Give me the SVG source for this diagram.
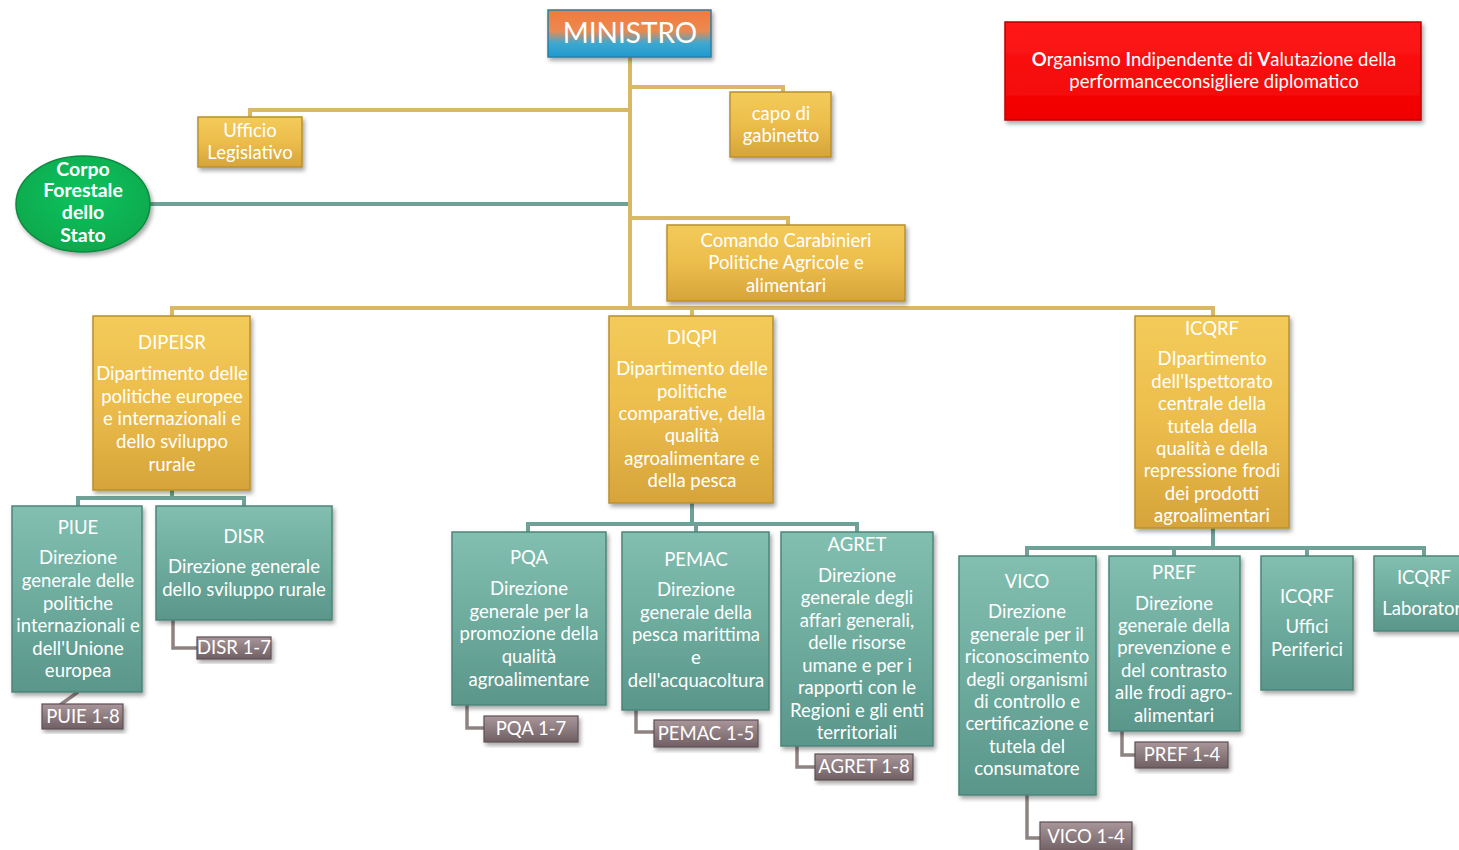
<svg xmlns="http://www.w3.org/2000/svg" width="1459" height="850" viewBox="0 0 1459 850">
<defs>
<linearGradient id="gMin" x1="0" y1="0" x2="0" y2="1">
<stop offset="0" stop-color="#f5793a"/><stop offset="0.45" stop-color="#e98a52"/><stop offset="0.7" stop-color="#3fa8cf"/><stop offset="1" stop-color="#1f9bd0"/>
</linearGradient>
<linearGradient id="gGold" x1="0" y1="0" x2="0" y2="1">
<stop offset="0" stop-color="#f3cb5a"/><stop offset="0.5" stop-color="#ecbd4c"/><stop offset="1" stop-color="#d6a43a"/>
</linearGradient>
<linearGradient id="gTeal" x1="0" y1="0" x2="0" y2="1">
<stop offset="0" stop-color="#82bfb0"/><stop offset="0.5" stop-color="#6eac9e"/><stop offset="1" stop-color="#5a968a"/>
</linearGradient>
<linearGradient id="gLab" x1="0" y1="0" x2="0" y2="1">
<stop offset="0" stop-color="#a8969a"/><stop offset="1" stop-color="#6f5f63"/>
</linearGradient>
<linearGradient id="gRed" x1="0" y1="0" x2="0" y2="1">
<stop offset="0" stop-color="#ff1a1a"/><stop offset="1" stop-color="#f00000"/>
</linearGradient>
<radialGradient id="gGreen" cx="0.5" cy="0.4" r="0.6">
<stop offset="0" stop-color="#12c25e"/><stop offset="1" stop-color="#07a94c"/>
</radialGradient>
<filter id="sh" x="-10%" y="-10%" width="125%" height="130%">
<feDropShadow dx="2" dy="3" stdDeviation="2" flood-color="#000" flood-opacity="0.35"/>
</filter>
<style>
.gold{fill:url(#gGold);stroke:#b8902f;stroke-width:1.5;filter:url(#sh)}
.teal{fill:url(#gTeal);stroke:#4e857a;stroke-width:1.5;filter:url(#sh)}
.lab{fill:url(#gLab);stroke:#5e5054;stroke-width:1.2;filter:url(#sh)}
.t{font-family:Lato,"Open Sans","Liberation Sans",sans-serif;font-size:18.5px;fill:#fff;text-anchor:middle}
.tb{font-weight:bold;font-size:19.5px}
.cg{fill:none;stroke:#d9b865;stroke-width:4}
.ct{fill:none;stroke:#6fa297;stroke-width:4}
.cl{fill:none;stroke:#8f8283;stroke-width:3.5}
</style>
</defs>

<g id="connectors">
<path class="cg" d="M630 57 V308 M630 110 H250 V117 M630 87 H783 V92 M630 218 H788 V225 M172 316 V308 H1213 V316 M692 308 V316"/>
<path class="ct" d="M148 204 H628" stroke="#7aa9a1"/>
<path class="ct" d="M172 490 V498 M78 506 V498 H244 V506 M692 503 V524 M528 532 V524 H857 V532 M696 524 V532 M1213 528 V548 M1027 556 V548 H1424 V556 M1174 548 V556 M1307 548 V556"/>
<path class="cl" d="M173 620 V648 H197 M78 692 L60 705 M467 705 V728 H484 M636 710 V732 H654 M797 746 V767 H815 M1122 731 V755 H1135 M1027 795 V838 H1040"/>
</g>

<g id="ministro">
<rect x="548" y="10" width="163" height="47" fill="url(#gMin)" stroke="#2a7fa5" stroke-width="1.5" filter="url(#sh)"/>
<text class="t" x="630" y="43" style="font-size:28px">MINISTRO</text>
</g>

<g id="oiv">
<rect x="1005" y="22" width="416" height="98" fill="url(#gRed)" stroke="#c00000" stroke-width="1.5" filter="url(#sh)"/>
<text class="t" x="1214" y="66" style="font-size:18.5px"><tspan style="font-weight:bold">O</tspan>rganismo <tspan style="font-weight:bold">I</tspan>ndipendente di <tspan style="font-weight:bold">V</tspan>alutazione della</text>
<text class="t" x="1214" y="88">performanceconsigliere diplomatico</text>
</g>

<g id="ufficio">
<rect class="gold" x="198" y="117" width="104" height="50"/>
<text class="t" x="250" y="137">Ufficio</text>
<text class="t" x="250" y="159">Legislativo</text>
</g>

<g id="capo">
<rect class="gold" x="730" y="92" width="101" height="65"/>
<text class="t" x="781" y="120">capo di</text>
<text class="t" x="781" y="142">gabinetto</text>
</g>

<g id="corpo">
<ellipse cx="83" cy="204" rx="67" ry="48" fill="url(#gGreen)" stroke="#0a8a40" stroke-width="1.5" filter="url(#sh)"/>
<text class="t tb" x="83" y="176">Corpo</text>
<text class="t tb" x="83" y="197">Forestale</text>
<text class="t tb" x="83" y="219">dello</text>
<text class="t tb" x="83" y="242">Stato</text>
</g>

<g id="comando">
<rect class="gold" x="667" y="225" width="238" height="76"/>
<text class="t" x="786" y="247">Comando Carabinieri</text>
<text class="t" x="786" y="269">Politiche Agricole e</text>
<text class="t" x="786" y="292">alimentari</text>
</g>

<g id="dipeisr">
<rect class="gold" x="93" y="316" width="157" height="174"/>
<text class="t" x="172" y="349">DIPEISR</text>
<text class="t" x="172" y="380">Dipartimento delle</text>
<text class="t" x="172" y="403">politiche europee</text>
<text class="t" x="172" y="425">e internazionali e</text>
<text class="t" x="172" y="448">dello sviluppo</text>
<text class="t" x="172" y="471">rurale</text>
</g>

<g id="diqpi">
<rect class="gold" x="609" y="316" width="164" height="187"/>
<text class="t" x="692" y="344">DIQPI</text>
<text class="t" x="692" y="375">Dipartimento delle</text>
<text class="t" x="692" y="398">politiche</text>
<text class="t" x="692" y="420">comparative, della</text>
<text class="t" x="692" y="442">qualità</text>
<text class="t" x="692" y="465">agroalimentare e</text>
<text class="t" x="692" y="487">della pesca</text>
</g>

<g id="icqrf">
<rect class="gold" x="1135" y="316" width="154" height="212"/>
<text class="t" x="1212" y="335">ICQRF</text>
<text class="t" x="1212" y="365">DIpartimento</text>
<text class="t" x="1212" y="388">dell'Ispettorato</text>
<text class="t" x="1212" y="410">centrale della</text>
<text class="t" x="1212" y="433">tutela della</text>
<text class="t" x="1212" y="455">qualità e della</text>
<text class="t" x="1212" y="477">repressione frodi</text>
<text class="t" x="1212" y="500">dei prodotti</text>
<text class="t" x="1212" y="522">agroalimentari</text>
</g>

<g id="piue">
<rect class="teal" x="12" y="506" width="130" height="186"/>
<text class="t" x="78" y="534">PIUE</text>
<text class="t" x="78" y="564">Direzione</text>
<text class="t" x="78" y="587">generale delle</text>
<text class="t" x="78" y="610">politiche</text>
<text class="t" x="78" y="632">internazionali e</text>
<text class="t" x="78" y="655">dell'Unione</text>
<text class="t" x="78" y="677">europea</text>
</g>

<g id="disr">
<rect class="teal" x="156" y="506" width="176" height="114"/>
<text class="t" x="244" y="543">DISR</text>
<text class="t" x="244" y="573">Direzione generale</text>
<text class="t" x="244" y="596">dello sviluppo rurale</text>
</g>

<g id="pqa">
<rect class="teal" x="452" y="532" width="154" height="173"/>
<text class="t" x="529" y="564">PQA</text>
<text class="t" x="529" y="595">Direzione</text>
<text class="t" x="529" y="618">generale per la</text>
<text class="t" x="529" y="640">promozione della</text>
<text class="t" x="529" y="663">qualità</text>
<text class="t" x="529" y="686">agroalimentare</text>
</g>

<g id="pemac">
<rect class="teal" x="622" y="532" width="147" height="178"/>
<text class="t" x="696" y="566">PEMAC</text>
<text class="t" x="696" y="596">Direzione</text>
<text class="t" x="696" y="619">generale della</text>
<text class="t" x="696" y="641">pesca marittima</text>
<text class="t" x="696" y="664">e</text>
<text class="t" x="696" y="687">dell'acquacoltura</text>
</g>

<g id="agret">
<rect class="teal" x="781" y="532" width="152" height="214"/>
<text class="t" x="857" y="551">AGRET</text>
<text class="t" x="857" y="582">Direzione</text>
<text class="t" x="857" y="604">generale degli</text>
<text class="t" x="857" y="627">affari generali,</text>
<text class="t" x="857" y="649">delle risorse</text>
<text class="t" x="857" y="672">umane e per i</text>
<text class="t" x="857" y="694">rapporti con le</text>
<text class="t" x="857" y="717">Regioni e gli enti</text>
<text class="t" x="857" y="739">territoriali</text>
</g>

<g id="vico">
<rect class="teal" x="959" y="556" width="137" height="239"/>
<text class="t" x="1027" y="588">VICO</text>
<text class="t" x="1027" y="618">Direzione</text>
<text class="t" x="1027" y="641">generale per il</text>
<text class="t" x="1027" y="663">riconoscimento</text>
<text class="t" x="1027" y="686">degli organismi</text>
<text class="t" x="1027" y="708">di controllo e</text>
<text class="t" x="1027" y="730">certificazione e</text>
<text class="t" x="1027" y="753">tutela del</text>
<text class="t" x="1027" y="775">consumatore</text>
</g>

<g id="pref">
<rect class="teal" x="1109" y="556" width="131" height="175"/>
<text class="t" x="1174" y="579">PREF</text>
<text class="t" x="1174" y="610">Direzione</text>
<text class="t" x="1174" y="632">generale della</text>
<text class="t" x="1174" y="654">prevenzione e</text>
<text class="t" x="1174" y="677">del  contrasto</text>
<text class="t" x="1174" y="699">alle frodi agro-</text>
<text class="t" x="1174" y="722">alimentari</text>
</g>

<g id="uffici">
<rect class="teal" x="1261" y="556" width="92" height="134"/>
<text class="t" x="1307" y="603">ICQRF</text>
<text class="t" x="1307" y="633">Uffici</text>
<text class="t" x="1307" y="656">Periferici</text>
</g>

<g id="laboratori">
<rect class="teal" x="1374" y="556" width="100" height="75"/>
<text class="t" x="1424" y="584">ICQRF</text>
<text class="t" x="1424" y="615">Laboratori</text>
</g>

<g id="disr17"><rect class="lab" x="197" y="637" width="74" height="22"/><text class="t" x="234" y="654">DISR 1-7</text></g>
<g id="puie18"><rect class="lab" x="42" y="704" width="81" height="25"/><text class="t" x="83" y="723">PUIE 1-8</text></g>
<g id="pqa17"><rect class="lab" x="484" y="716" width="94" height="26"/><text class="t" x="531" y="735">PQA 1-7</text></g>
<g id="pemac15"><rect class="lab" x="654" y="720" width="104" height="27"/><text class="t" x="706" y="740">PEMAC 1-5</text></g>
<g id="agret18"><rect class="lab" x="815" y="754" width="98" height="26"/><text class="t" x="864" y="773">AGRET 1-8</text></g>
<g id="pref14"><rect class="lab" x="1135" y="742" width="93" height="26"/><text class="t" x="1182" y="761">PREF 1-4</text></g>
<g id="vico14"><rect class="lab" x="1040" y="822" width="92" height="30"/><text class="t" x="1086" y="843">VICO 1-4</text></g>
</svg>
